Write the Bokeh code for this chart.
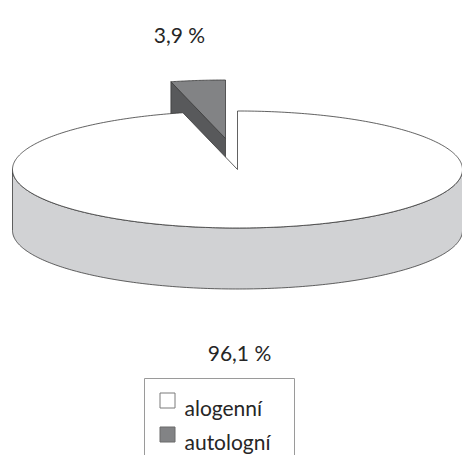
import numpy as np
from bokeh.plotting import figure
from bokeh.models import Range1d
from bokeh.core.properties import value
from bokeh.embed import file_html
from bokeh.resources import INLINE

# ---- data ----
categories = ["alogenní", "autologní"]
shares = [96.1, 3.9]
labels = ["96,1 %", "3,9 %"]

# ---- style / geometry constants ----
CX, CY = 237.0, 169.0
A, B = 225.0, 58.5
DEPTH = 61.0
EXPLODE = (-12.0, -31.0)
TOP_COLORS = ["#ffffff", "#828385"]
SIDE_COLORS = ["#d1d2d4", "#58595b"]
EDGE = "#3a3a3a"
FONT = value("Lato")

p = figure(width=462, height=455, x_range=Range1d(0, 462), y_range=Range1d(455, 0),
           output_backend="svg", toolbar_location=None, min_border=0)
p.axis.visible = False
p.grid.visible = False
p.outline_line_color = None
p.background_fill_color = "white"


def arc(t0, t1, cx, cy, n=200):
    t = np.radians(np.linspace(t0, t1, n))
    return cx + A * np.cos(t), cy - B * np.sin(t)


# angles
span_auto = shares[1] / 100.0 * 360.0
a0, a1 = 90.0, 90.0 + span_auto      # autologní slice
m0, m1 = a1, 450.0                    # alogenní slice

# exploded slice (drawn first, lies behind)
ecx, ecy = CX + EXPLODE[0], CY + EXPLODE[1]
ex1 = ecx + A * np.cos(np.radians(a1))
ey1 = ecy - B * np.sin(np.radians(a1))
p.patch([ecx, ex1, ex1, ecx], [ecy, ey1, ey1 + DEPTH, ecy + DEPTH],
        fill_color=SIDE_COLORS[1], line_color=EDGE, line_width=0.8)
ax_, ay_ = arc(a0, a1, ecx, ecy, 40)
p.patch(np.r_[ecx, ax_], np.r_[ecy, ay_],
        fill_color=TOP_COLORS[1], line_color=EDGE, line_width=0.8)

# main slice side (front half)
sx, sy = arc(180, 360, CX, CY)
p.patch(np.r_[sx, sx[::-1]], np.r_[sy, (sy + DEPTH)[::-1]],
        fill_color=SIDE_COLORS[0], line_color=EDGE, line_width=0.8)

# main slice top face
mx, my = arc(m0, m1, CX, CY, 400)
p.patch(np.r_[CX, mx], np.r_[CY, my],
        fill_color=TOP_COLORS[0], line_color=EDGE, line_width=0.8)

# value labels
p.text(x=[239, 179], y=[352, 34], text=labels, text_font=FONT, text_font_size="21px",
       text_color="#262626", text_align="center", text_baseline="alphabetic")

# legend (manual, box runs off the bottom like the reference)
p.quad(left=[144], right=[294], top=[378], bottom=[480],
       fill_color="white", line_color="#9a9a9a", line_width=1)
p.rect(x=[167, 167], y=[400, 434], width=15, height=15,
       fill_color=TOP_COLORS, line_color=["#7a7a7a", "#6a6a6a"], line_width=1)
p.text(x=[184, 184], y=[407, 441], text=categories, text_font=FONT, text_font_size="21px",
       text_color="#262626", text_align="left", text_baseline="alphabetic")

open("out.html", "w").write(file_html(p, INLINE))
